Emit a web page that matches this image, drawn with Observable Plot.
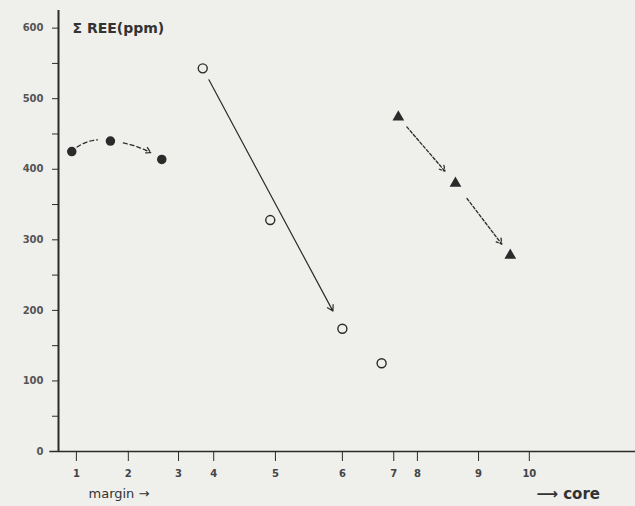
<!DOCTYPE html>
<html>
<head>
<meta charset="utf-8">
<script src="https://cdn.jsdelivr.net/npm/d3@7"></script>
<script src="https://cdn.jsdelivr.net/npm/@observablehq/plot@0.6"></script>
<style>
  html, body { margin: 0; padding: 0; background: #efefec; }
  #chart svg { display: block; background: #efefec; }
</style>
</head>
<body>
<div id="chart"></div>
<script>
// Sample numbers along the traverse and their (irregular) relative positions
const sampleLabels = ["1", "2", "3", "4", "5", "6", "7", "8", "9", "10"];
const samplePos = [3.1, 12.1, 20.8, 26.9, 37.6, 49.2, 58.1, 62.2, 72.8, 81.6];

// Series: filled circles
const filledPos = [2.3, 9.0, 17.9];
const filledREE = [425, 440, 414];
// Series: open circles
const openPos = [25.0, 36.7, 49.2, 56.0];
const openREE = [543, 328, 174, 125];
// Series: triangles
const triPos = [58.9, 68.8, 78.3];
const triREE = [474, 380, 278];

const yMajor = [0, 100, 200, 300, 400, 500, 600];
const yMinor = [50, 150, 250, 350, 450, 550];

const titleText = "Σ REE(ppm)";
const leftNote = "margin →";
const rightNote = "⟶ core";

const toRows = (xs, ys) => xs.map((x, i) => ({x, y: ys[i]}));
const filled = toRows(filledPos, filledREE);
const open = toRows(openPos, openREE);
const tri = toRows(triPos, triREE);

const ink = "#2b2b2b";

const seg = (a, b) => [{x1: a.x, y1: a.y, x2: b.x, y2: b.y}];

const chart = Plot.plot({
  width: 635,
  height: 506,
  marginLeft: 58,
  marginRight: 0,
  marginTop: 10,
  marginBottom: 55,
  style: {background: "#efefec", color: ink, fontFamily: "DejaVu Sans, sans-serif"},
  x: {domain: [0, 100]},
  y: {domain: [0, 625]},
  marks: [
    Plot.axisY(yMajor, {tickSize: 6, tickPadding: 9, fontSize: 10, fontWeight: "bold", fill: "#555", stroke: ink, label: null}),
    Plot.axisY(yMinor, {tickSize: 6, tickFormat: () => "", stroke: ink, label: null}),
    Plot.axisX(samplePos, {tickSize: 10, tickPadding: 8, fontSize: 10, fontWeight: "bold", fill: "#444", stroke: ink, label: null,
      tickFormat: d => sampleLabels[samplePos.indexOf(d)]}),
    Plot.ruleY([0], {stroke: ink, strokeWidth: 1.6, x1: -1.5, x2: 100}),
    Plot.ruleX([0], {stroke: ink, strokeWidth: 2}),
    // arrows
    Plot.arrow(seg(filled[0], filled[1]), {x1: "x1", y1: "y1", x2: "x2", y2: "y2", bend: 30, insetStart: 7, insetEnd: 13, headLength: 0, stroke: ink, strokeWidth: 1.3, strokeDasharray: "4,3"}),
    Plot.arrow(seg(filled[1], filled[2]), {x1: "x1", y1: "y1", x2: "x2", y2: "y2", bend: 15, insetStart: 13, insetEnd: 13, headLength: 7, stroke: ink, strokeWidth: 1.3, strokeDasharray: "4,3"}),
    Plot.arrow(seg(open[0], open[2]), {x1: "x1", y1: "y1", x2: "x2", y2: "y2", insetStart: 13, insetEnd: 20, headLength: 8, stroke: ink, strokeWidth: 1.2}),
    Plot.arrow(seg(tri[0], tri[1]), {x1: "x1", y1: "y1", x2: "x2", y2: "y2", insetStart: 13, insetEnd: 16, headLength: 7, stroke: ink, strokeWidth: 1.3, strokeDasharray: "3,2"}),
    Plot.arrow(seg(tri[1], tri[2]), {x1: "x1", y1: "y1", x2: "x2", y2: "y2", insetStart: 19, insetEnd: 14, headLength: 7, stroke: ink, strokeWidth: 1.3, strokeDasharray: "3,2"}),
    // points
    Plot.dot(filled, {x: "x", y: "y", r: 4, fill: ink, stroke: ink}),
    Plot.dot(open, {x: "x", y: "y", r: 4.5, fill: "#efefec", stroke: ink, strokeWidth: 1.4}),
    Plot.dot(tri, {x: "x", y: "y", symbol: "triangle", r: 3.4, fill: ink, stroke: ink}),
    // texts
    Plot.text([titleText], {frameAnchor: "top-left", dx: 14, dy: 13, fontSize: 14, fontWeight: "bold", fill: "#333", textAnchor: "start", letterSpacing: 0.5}),
    Plot.text([leftNote], {frameAnchor: "bottom-left", dx: 30, dy: 46, fontSize: 13, fill: "#333", textAnchor: "start", letterSpacing: 2}),
    Plot.text([rightNote], {frameAnchor: "bottom-left", dx: 478, dy: 47, fontSize: 15, fontWeight: "bold", fill: "#333", textAnchor: "start", letterSpacing: 4})
  ]
});
document.getElementById("chart").appendChild(chart);
</script>
</body>
</html>
